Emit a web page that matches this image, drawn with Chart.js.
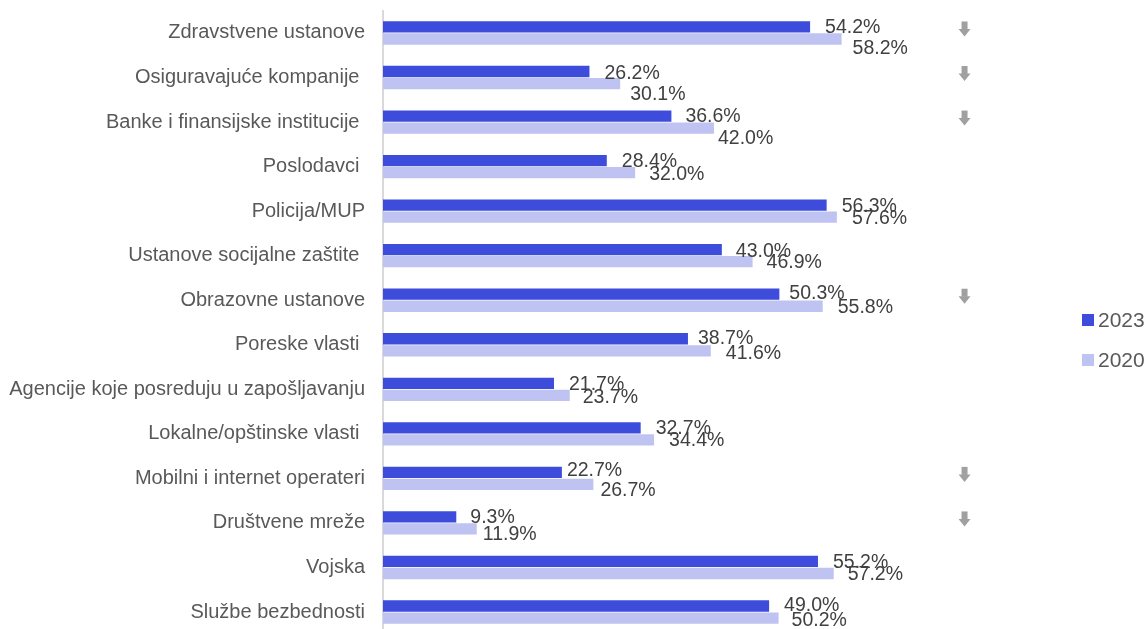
<!DOCTYPE html>
<html>
<head>
<meta charset="utf-8">
<script src="https://cdn.jsdelivr.net/npm/chart.js@4"></script>
<style>
  html, body { margin: 0; padding: 0; background: #fff; overflow: hidden; }
  #wrap { position: relative; width: 1147px; height: 640px; }
</style>
</head>
<body>
<div id="wrap"><canvas id="trust"></canvas></div>
<script>
const categories = [
  'Zdravstvene ustanove',
  'Osiguravajuće kompanije ',
  'Banke i finansijske institucije ',
  'Poslodavci ',
  'Policija/MUP',
  'Ustanove socijalne zaštite ',
  'Obrazovne ustanove',
  'Poreske vlasti ',
  'Agencije koje posreduju u zapošljavanju',
  'Lokalne/opštinske vlasti ',
  'Mobilni i internet operateri',
  'Društvene mreže',
  'Vojska',
  'Službe bezbednosti'
];
const values2023 = [54.2, 26.2, 36.6, 28.4, 56.3, 43.0, 50.3, 38.7, 21.7, 32.7, 22.7, 9.3, 55.2, 49.0];
const values2020 = [58.2, 30.1, 42.0, 32.0, 57.6, 46.9, 55.8, 41.6, 23.7, 34.4, 26.7, 11.9, 57.2, 50.2];
// categories marked with a down arrow (significant drop since 2020)
const dropFlags = [true, true, true, false, false, false, true, false, false, false, true, true, false, false];

const FONT = 'Liberation Sans, Arial, sans-serif';

// hand-placed label nudges [dx, dy] from the bar end, per series
const labelNudge = [
  [[15, 0], [15, 1], [14, 0], [15, 0], [15, 0], [14, 1], [10, -2],
   [10, -1], [15, 0], [15, 0], [5, -3], [14, 0], [15, 0], [15, -1]],
  [[11, 9], [10, 10], [4, 10], [14, 1], [15, 0], [14, 0], [15, 0],
   [15, 2], [13, 1], [15, 0], [7, 5], [6, 5], [14, 0], [13, 2]]
];

// value labels next to each bar
const valueLabels = {
  id: 'valueLabels',
  afterDatasetsDraw(chart) {
    const ctx = chart.ctx;
    ctx.save();
    ctx.font = '19.5px ' + FONT;
    ctx.fillStyle = '#404040';
    ctx.textAlign = 'left';
    ctx.textBaseline = 'middle';
    chart.data.datasets.forEach((ds, i) => {
      const meta = chart.getDatasetMeta(i);
      meta.data.forEach((bar, j) => {
        const [dx, dy] = labelNudge[i][j];
        ctx.fillText(ds.data[j].toFixed(1) + '%', bar.x + dx, bar.y + dy + 1);
      });
    });
    ctx.restore();
  }
};

// grey down arrows in a column to the right of the bars
const dropArrows = {
  id: 'dropArrows',
  afterDatasetsDraw(chart) {
    const ctx = chart.ctx;
    const x = chart.scales.x.getPixelForValue(73.8);
    ctx.save();
    ctx.fillStyle = '#a0a0a0';
    dropFlags.forEach((flag, j) => {
      if (!flag) return;
      const y = chart.scales.y.getPixelForValue(j) - 4;
      ctx.fillRect(x - 3, y - 7.5, 6, 8);
      ctx.beginPath();
      ctx.moveTo(x - 6, y);
      ctx.lineTo(x + 6, y);
      ctx.lineTo(x, y + 7.5);
      ctx.closePath();
      ctx.fill();
    });
    ctx.restore();
  }
};

// legend at the right edge
const sideLegend = {
  id: 'sideLegend',
  afterDraw(chart) {
    const ctx = chart.ctx;
    ctx.save();
    ctx.font = '21px ' + FONT;
    ctx.textBaseline = 'middle';
    chart.data.datasets.forEach((ds, i) => {
      const y = 320 + i * 40;
      ctx.fillStyle = ds.backgroundColor;
      ctx.fillRect(1082, y - 6, 12, 12);
      ctx.fillStyle = '#595959';
      ctx.fillText(ds.label, 1098, y + 1);
    });
    ctx.restore();
  }
};

new Chart(document.getElementById('trust'), {
  type: 'bar',
  data: {
    labels: categories,
    datasets: [
      {
        label: '2023',
        data: values2023,
        backgroundColor: '#3d4cdb',
        categoryPercentage: 0.54,
        barPercentage: 0.94
      },
      {
        label: '2020',
        data: values2020,
        backgroundColor: '#bfc3f1',
        categoryPercentage: 0.54,
        barPercentage: 0.94
      }
    ]
  },
  options: {
    indexAxis: 'y',
    responsive: true,
    maintainAspectRatio: false,
    animation: false,
    layout: { padding: { top: 10.7, bottom: 5.7, right: 133.6, left: 0 } },
    plugins: {
      legend: { display: false },
      tooltip: { enabled: false }
    },
    scales: {
      x: {
        display: false,
        min: 0,
        max: 80
      },
      y: {
        grid: { display: false, drawTicks: false },
        border: { display: true, color: '#d9d9d9', width: 2 },
        ticks: {
          color: '#595959',
          font: { family: FONT, size: 20 },
          padding: 18
        },
        afterFit(scale) {
          scale.width = 383;
          // no extra room for the half-height of the end labels
          scale.paddingTop = 0;
          scale.paddingBottom = 0;
        }
      }
    }
  },
  plugins: [valueLabels, dropArrows, sideLegend]
});
</script>
</body>
</html>
